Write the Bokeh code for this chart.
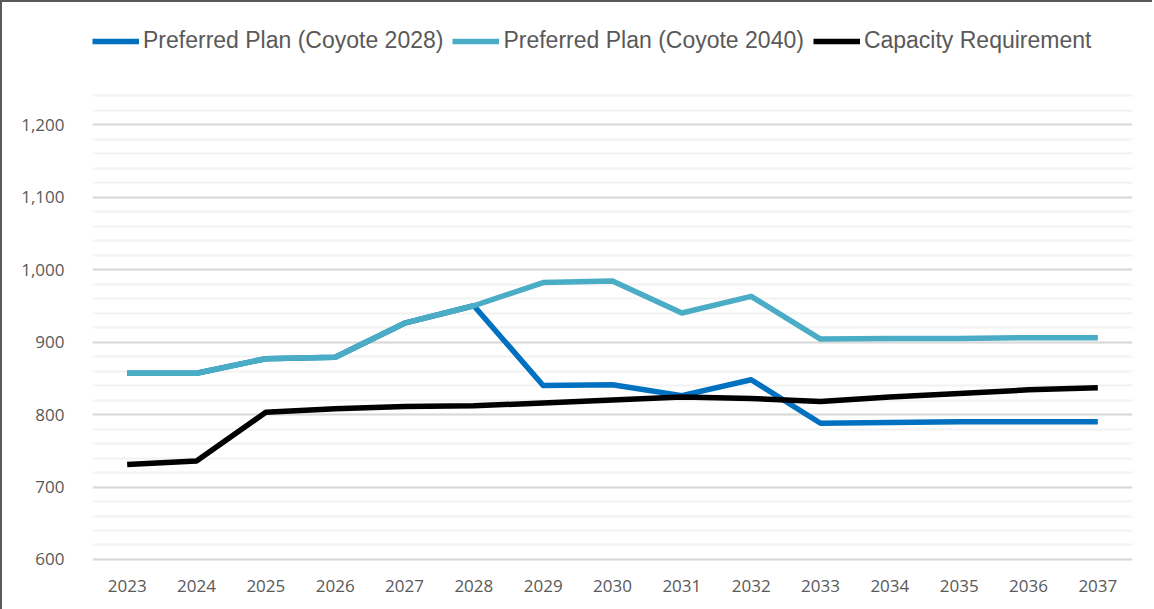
from bokeh.plotting import figure
from bokeh.models import Legend, LegendItem, FactorRange, Range1d, FixedTicker, NumeralTickFormatter
from bokeh.embed import file_html
from bokeh.resources import INLINE

years = ["2023", "2024", "2025", "2026", "2027", "2028", "2029", "2030",
         "2031", "2032", "2033", "2034", "2035", "2036", "2037"]
coyote_2028 = [857, 857, 877, 879, 926, 950, 840, 841, 826, 848, 788, 789, 790, 790, 790]
coyote_2040 = [857, 857, 877, 879, 926, 950, 982, 984, 940, 963, 904, 905, 905, 906, 906]
capacity_req = [731, 736, 803, 808, 811, 812, 816, 820, 824, 822, 818, 824, 829, 834, 837]
y_ticks = [600, 700, 800, 900, 1000, 1100, 1200]
grid_minor = list(range(600, 1241, 20))

# frame extends above the grid to host the legend
p = figure(frame_width=1040, frame_height=556, x_range=FactorRange(*years, range_padding=0),
           y_range=Range1d(595.86, 1362.8), output_backend="svg", toolbar_location=None,
           min_border_left=90, min_border_right=20, min_border_bottom=47, min_border_top=4)
p.styles = {"border-left": "2px solid #595959", "border-top": "2px solid #595959"}

c1 = p.line(years, coyote_2028, line_color="#0070C0", line_width=5.5, line_join="round")
c2 = p.line(years, coyote_2040, line_color="#4BACC6", line_width=5.5, line_join="round")
c3 = p.line(years, capacity_req, line_color="#000000", line_width=5.5, line_join="round")

legend = Legend(items=[LegendItem(label="Preferred Plan (Coyote 2028)", renderers=[c1]),
                       LegendItem(label="Preferred Plan (Coyote 2040)", renderers=[c2]),
                       LegendItem(label="Capacity Requirement", renderers=[c3])],
                orientation="horizontal", location=(0, 508),
                label_text_font="Liberation Sans", label_text_font_size="23px",
                label_text_color="#595959", glyph_width=47, glyph_height=26, label_height=26,
                label_standoff=4, spacing=9, padding=0, margin=0,
                border_line_color=None, background_fill_alpha=0)
p.add_layout(legend)

p.outline_line_color = None
p.background_fill_color = "white"
p.border_fill_color = "white"

p.ygrid.grid_line_color = "#D9D9D9"
p.ygrid.grid_line_width = 2
p.ygrid.minor_grid_line_color = "#F2F2F2"
p.ygrid.minor_grid_line_width = 2
p.xgrid.grid_line_color = None

p.yaxis.ticker = FixedTicker(ticks=y_ticks, minor_ticks=grid_minor)
p.yaxis.formatter = NumeralTickFormatter(format="0,0")
for ax in (p.xaxis[0], p.yaxis[0]):
    ax.axis_line_color = None
    ax.major_tick_line_color = None
    ax.minor_tick_line_color = None
    ax.major_label_text_color = "#595959"
    ax.major_label_text_font = "Open Sans"
    ax.major_label_text_font_size = "17px"
p.yaxis.major_label_standoff = 22
p.xaxis.major_label_standoff = 11

open("out.html", "w").write(file_html(p, INLINE))
